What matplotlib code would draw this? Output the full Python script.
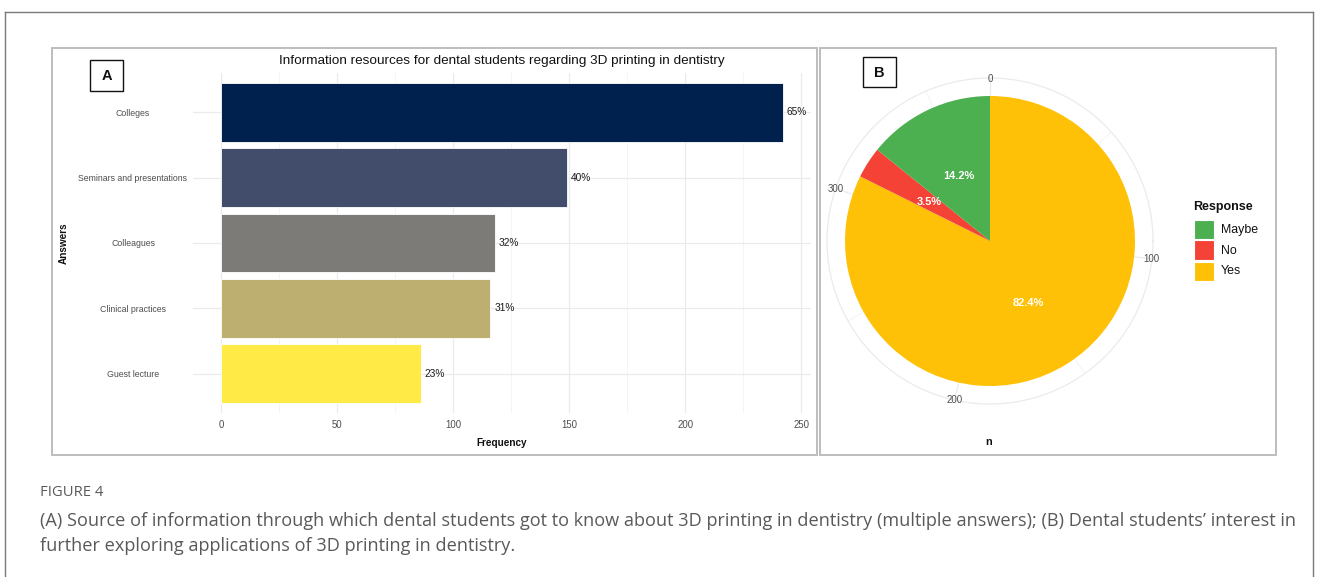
import matplotlib
matplotlib.use("Agg")
import matplotlib.pyplot as plt
from matplotlib.patches import Rectangle
from matplotlib.lines import Line2D
import numpy as np

# ---------------- data ----------------
n_respondents = 374

sources = ["Colleges", "Seminars and presentations", "Colleagues",
           "Clinical practices", "Guest lecture"]
frequency = [242, 149, 118, 116, 86]
bar_colors = ["#00204D", "#414D6B", "#7C7B78", "#BCAF6F", "#FFEA46"]  # cividis

responses = ["Yes", "No", "Maybe"]
response_counts = [308, 13, 53]
response_colors = {"Maybe": "#4CAF50", "No": "#F44336", "Yes": "#FFC107"}
legend_order = ["Maybe", "No", "Yes"]

freq_ticks = [0, 50, 100, 150, 200, 250]
theta_ticks = [0, 100, 200, 300]

# ---------------- layout helpers ----------------
W, H = 1328, 577
fig = plt.figure(figsize=(W / 100, H / 100), dpi=100)
fig.patch.set_facecolor("white")

CHART_FONT = ["Liberation Sans", "DejaVu Sans"]
CAPTION_FONT = ["Open Sans", "DejaVu Sans"]


def fx(x):
    return x / W


def fy(y):
    return 1 - y / H


def box(x0, y0, x1, y1):
    return [fx(x0), fy(y1), (x1 - x0) / W, (y1 - y0) / H]


def frame_rect(x0, y0, x1, y1, color, lw):
    fig.patches.append(Rectangle((fx(x0), fy(y1)), (x1 - x0) / W, (y1 - y0) / H,
                                 transform=fig.transFigure, fill=False,
                                 edgecolor=color, linewidth=lw, zorder=0))


def ftext(x, y, s, **kw):
    kw.setdefault("family", CHART_FONT)
    fig.text(fx(x), fy(y), s, **kw)


# outer figure frame (open at the bottom)
for xs, ys in [((4.5, 4.5), (577, 11.5)), ((4.5, 1313), (11.5, 11.5)),
               ((1313, 1313), (11.5, 577))]:
    fig.add_artist(Line2D([fx(v) for v in xs], [fy(v) for v in ys],
                          transform=fig.transFigure, color="#7a7a7a", lw=1.0))

# panel borders
frame_rect(51.5, 48.5, 817, 455, "#BDBDBD", 1.4)
frame_rect(819.5, 47.5, 1276, 455, "#BDBDBD", 1.4)

# ---------------- panel A: horizontal bar chart ----------------
ax = fig.add_axes(box(193, 73, 811, 413))
ypos = np.arange(len(sources))[::-1] + 1
xmax = max(frequency)
ax.set_xlim(-0.05 * xmax, 1.05 * xmax)
ax.set_ylim(0.4, len(sources) + 0.6)

for v in np.arange(0, 260, 25):
    major = v % 50 == 0
    ax.axvline(v, color="#EBEBEB" if major else "#F2F2F2",
               lw=0.9 if major else 0.6, zorder=0)
for y in ypos:
    ax.axhline(y, color="#EBEBEB", lw=0.9, zorder=0)

ax.barh(ypos, frequency, height=0.9, color=bar_colors, edgecolor="white",
        linewidth=0.6, zorder=2)
for y, f in zip(ypos, frequency):
    ax.text(f + 1.6, y, f"{round(100 * f / n_respondents)}%", ha="left",
            va="center", fontsize=7.3, color="#1a1a1a", family=CHART_FONT)

for s in ax.spines.values():
    s.set_visible(False)
ax.set_xticks(freq_ticks)
ax.set_xticklabels([str(t) for t in freq_ticks], family=CHART_FONT)
ax.set_yticks(ypos)
ax.set_yticklabels(sources, family=CHART_FONT)
ax.tick_params(axis="x", length=0, labelsize=6.9, labelcolor="#4D4D4D", pad=5)
ax.tick_params(axis="y", length=0, labelsize=6.3, labelcolor="#4D4D4D", pad=43.2)
for lab in ax.get_yticklabels():
    lab.set_ha("center")
ax.patch.set_alpha(0)

ftext(502, 61, "Information resources for dental students regarding 3D printing in dentistry",
      ha="center", va="center", fontsize=9.7, color="#111111")
ftext(502, 443, "Frequency", ha="center", va="center", fontsize=7.2,
      color="#111111", fontweight="bold")
ftext(64, 243, "Answers", ha="center", va="center", rotation=90, fontsize=7.2,
      color="#111111", fontweight="bold")

# ---------------- panel B: pie in polar style ----------------
R = 145.0
cx, cy = 990, 241
half = 200
pax = fig.add_axes(box(cx - half, cy - half, cx + half, cy + half))

total = sum(response_counts)
outer = 1.124
for v in range(0, total, 50):
    a = np.deg2rad(v / total * 360)
    major = v % 100 == 0
    pax.plot([0, outer * np.sin(a)], [0, outer * np.cos(a)],
             color="#EBEBEB" if major else "#F2F2F2",
             lw=0.9 if major else 0.6, zorder=0)
t = np.linspace(0, 2 * np.pi, 400)
pax.plot(outer * np.cos(t), outer * np.sin(t), color="#EBEBEB", lw=0.9, zorder=0)

pax.pie(response_counts, colors=[response_colors[r] for r in responses],
        startangle=90, counterclock=False, radius=1.0, center=(0, 0),
        wedgeprops=dict(linewidth=0), frame=True)
pax.set_xlim(-half / R, half / R)
pax.set_ylim(-half / R, half / R)
pax.set_aspect("auto")
pax.axis("off")

start = 0.0
for r, c in zip(responses, response_counts):
    mid = np.deg2rad((start + c / 2) / total * 360)
    pax.text(0.5 * np.sin(mid), 0.5 * np.cos(mid), f"{100 * c / total:.1f}%",
             ha="center", va="center", color="white", fontsize=7.9,
             fontweight="bold", family=CHART_FONT, zorder=5)
    start += c

for v in theta_ticks:
    a = np.deg2rad(v / total * 360)
    pax.text(1.12 * np.sin(a), 1.12 * np.cos(a), str(v), ha="center",
             va="center", fontsize=7.0, color="#4D4D4D", family=CHART_FONT)

ftext(989, 442, "n", ha="center", va="center", fontsize=7.8,
      color="#111111", fontweight="bold")

# legend
ftext(1193, 207, "Response", ha="left", va="center", fontsize=9.0,
      color="#111111", fontweight="bold")
for i, r in enumerate(legend_order):
    top = 219.5 + i * 21
    fig.patches.append(Rectangle((fx(1194), fy(top + 19.5)), 19.5 / W, 19.5 / H,
                                 transform=fig.transFigure,
                                 facecolor=response_colors[r], edgecolor="white",
                                 linewidth=0.8))
    ftext(1221, top + 10, r, ha="left", va="center", fontsize=8.9, color="#111111")

# panel tags
for tag, (x0, y0, x1, y1) in {"A": (90, 60, 123, 91), "B": (863, 57, 896, 87)}.items():
    fig.patches.append(Rectangle((fx(x0), fy(y1)), (x1 - x0) / W, (y1 - y0) / H,
                                 transform=fig.transFigure, facecolor="white",
                                 edgecolor="#111111", linewidth=1.0))
    ftext((x0 + x1) / 2, (y0 + y1) / 2 + 0.5, tag, ha="center", va="center",
          fontsize=10.5, fontweight="bold", color="#111111")

# ---------------- caption ----------------
cap_color = "#595959"
ftext(40, 493, "FIGURE 4", ha="left", va="center", fontsize=10.6,
      color=cap_color, family=CAPTION_FONT)
ftext(40, 521, "(A) Source of information through which dental students got to know about "
      "3D printing in dentistry (multiple answers); (B) Dental students\u2019 interest in",
      ha="left", va="center", fontsize=13.1, color=cap_color, family=CAPTION_FONT)
ftext(40, 546, "further exploring applications of 3D printing in dentistry.",
      ha="left", va="center", fontsize=13.1, color=cap_color, family=CAPTION_FONT)

fig.savefig("out.png", dpi=100, facecolor="white")
